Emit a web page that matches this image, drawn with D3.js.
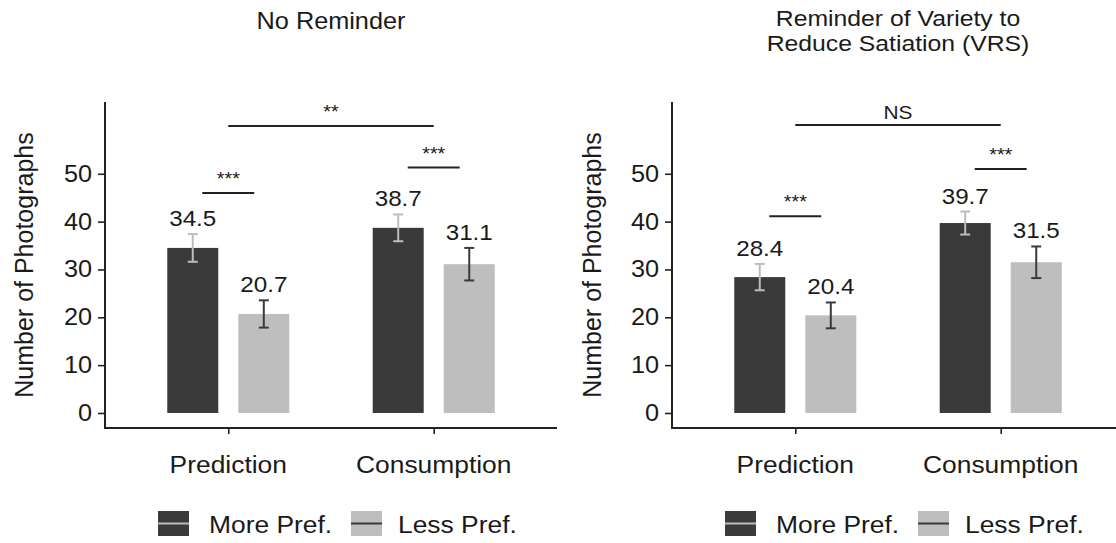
<!DOCTYPE html>
<html>
<head>
<meta charset="utf-8">
<script src="https://cdn.jsdelivr.net/npm/d3@7"></script>
<style>
  html, body { margin: 0; padding: 0; background: #fff; }
  svg { display: block; }
  text { font-family: "Liberation Sans", Arial, Helvetica, sans-serif; fill: #1a1a1a; }
</style>
</head>
<body>
<svg id="chart" width="1116" height="543"></svg>
<script>
// ---------------- data ----------------
const categories = ["Prediction", "Consumption"];
const seriesNames = ["More Pref.", "Less Pref."];
const yTicks = [0, 10, 20, 30, 40, 50];

const titleNoReminder = ["No Reminder"];
const titleVRS = ["Reminder of Variety to", "Reduce Satiation (VRS)"];

const noReminderMore = [34.5, 38.7];
const noReminderLess = [20.7, 31.1];
const noReminderMoreErr = [2.9, 2.8];
const noReminderLessErr = [2.85, 3.4];
const noReminderWithinSig = ["***", "***"];
const noReminderWithinY = [46.0, 51.3];
const noReminderAcrossSig = "**";
const noReminderAcrossY = 60.0;

const vrsMore = [28.4, 39.7];
const vrsLess = [20.4, 31.5];
const vrsMoreErr = [2.75, 2.4];
const vrsLessErr = [2.7, 3.3];
const vrsWithinSig = ["***", "***"];
const vrsWithinY = [41.1, 51.0];
const vrsAcrossSig = "NS";
const vrsAcrossY = 60.2;

const barColors = ["#3a3a3a", "#bebebe"];
const errColors = ["#bdbdbd", "#3a3a3a"];

// ---------------- layout ----------------
const SX = 1.1; // horizontal text stretch
const svg = d3.select("#chart");
const plotTop = 102, plotBottom = 428;
const y = d3.scaleLinear().domain([-3.14, 65]).range([plotBottom, plotTop]);

function htext(g, x, yy, str, size, anchor) {
  return g.append("text")
    .attr("transform", `translate(${x},${yy}) scale(${SX},1)`)
    .attr("text-anchor", anchor || "middle")
    .style("font-size", size + "px")
    .text(str);
}

const panels = [
  { left: 105, titles: titleNoReminder, titleY: [29], titleSize: 23, more: noReminderMore, less: noReminderLess,
    moreErr: noReminderMoreErr, lessErr: noReminderLessErr, withinSig: noReminderWithinSig,
    withinY: noReminderWithinY, acrossSig: noReminderAcrossSig, acrossY: noReminderAcrossY, ytitleX: 33 },
  { left: 672, titles: titleVRS, titleY: [26, 50.5], titleSize: 22.5, more: vrsMore, less: vrsLess,
    moreErr: vrsMoreErr, lessErr: vrsLessErr, withinSig: vrsWithinSig,
    withinY: vrsWithinY, acrossSig: vrsAcrossSig, acrossY: vrsAcrossY, ytitleX: 601 }
];

panels.forEach(p => {
  const g = svg.append("g");
  const x = d3.scalePoint().domain(categories).range([p.left, p.left + 452]).padding(0.6);
  const groupW = 0.594 * x.step();
  const xs = d3.scaleBand().domain(seriesNames).range([-groupW / 2, groupW / 2]).paddingInner(0.282);

  const rows = [];
  categories.forEach((c, i) => {
    rows.push({ cat: c, s: seriesNames[0], v: p.more[i], e: p.moreErr[i], k: 0 });
    rows.push({ cat: c, s: seriesNames[1], v: p.less[i], e: p.lessErr[i], k: 1 });
  });

  // bars
  g.selectAll("rect.bar").data(rows).enter().append("rect")
    .attr("x", d => x(d.cat) + xs(d.s))
    .attr("y", d => y(d.v))
    .attr("width", xs.bandwidth())
    .attr("height", d => y(0) - y(d.v))
    .attr("fill", d => barColors[d.k]);

  // error bars
  rows.forEach(d => {
    const cx = x(d.cat) + xs(d.s) + xs.bandwidth() / 2;
    const eg = g.append("g").attr("stroke", errColors[d.k]).attr("stroke-width", 2).attr("fill", "none");
    eg.append("line").attr("x1", cx).attr("x2", cx).attr("y1", y(d.v - d.e)).attr("y2", y(d.v + d.e));
    eg.append("line").attr("x1", cx - 5).attr("x2", cx + 5).attr("y1", y(d.v - d.e)).attr("y2", y(d.v - d.e));
    eg.append("line").attr("x1", cx - 5).attr("x2", cx + 5).attr("y1", y(d.v + d.e)).attr("y2", y(d.v + d.e));
    htext(g, cx, y(d.v + d.e) - 8, d.v.toFixed(1), 22);
  });

  // axes
  const yAxis = d3.axisLeft(y).tickValues(yTicks).tickSize(7).tickPadding(5);
  const ya = g.append("g").attr("transform", `translate(${p.left},0)`).call(yAxis);
  ya.select(".domain").remove();
  ya.selectAll(".tick line").attr("stroke", "#222").attr("stroke-width", 1.6);
  ya.selectAll(".tick text").remove();
  yTicks.forEach(t => {
    htext(g, p.left - 13, y(t) + 8, String(t), 23, "end");
  });
  g.append("line").attr("x1", p.left).attr("x2", p.left).attr("y1", plotTop).attr("y2", plotBottom)
    .attr("stroke", "#222").attr("stroke-width", 2);

  const xAxis = d3.axisBottom(x).tickSize(6).tickFormat("");
  const xa = g.append("g").attr("transform", `translate(0,${plotBottom})`).call(xAxis);
  xa.select(".domain").remove();
  xa.selectAll(".tick line").attr("stroke", "#222").attr("stroke-width", 1.6);
  g.append("line").attr("x1", p.left - 1).attr("x2", p.left + 452).attr("y1", plotBottom).attr("y2", plotBottom)
    .attr("stroke", "#222").attr("stroke-width", 2);
  categories.forEach(c => htext(g, x(c), 473, c, 24));

  // y title
  g.append("text")
    .attr("transform", `translate(${p.ytitleX},${(plotTop + plotBottom) / 2}) rotate(-90)`)
    .attr("text-anchor", "middle").style("font-size", "25px").text("Number of Photographs");

  // panel title
  const cxPanel = p.left + 226;
  p.titles.forEach((t, i) => htext(g, cxPanel, p.titleY[i], t, p.titleSize));

  // significance brackets within category
  const half = 0.1265 * x.step();
  categories.forEach((c, i) => {
    const ly = y(p.withinY[i]);
    g.append("line").attr("x1", x(c) - half).attr("x2", x(c) + half).attr("y1", ly).attr("y2", ly)
      .attr("stroke", "#222").attr("stroke-width", 2);
    htext(g, x(c), ly - 8, p.withinSig[i], 18);
  });
  // across categories
  const ay = y(p.acrossY);
  g.append("line").attr("x1", x(categories[0])).attr("x2", x(categories[1])).attr("y1", ay).attr("y2", ay)
    .attr("stroke", "#222").attr("stroke-width", 2);
  htext(g, (x(categories[0]) + x(categories[1])) / 2, ay - (p.acrossSig === "NS" ? 6 : 8), p.acrossSig,
    p.acrossSig === "NS" ? 19 : 18);

  // legend
  const legOff = [-173, -122, 20, 67];
  seriesNames.forEach((s, k) => {
    const kx = cxPanel + legOff[k * 2];
    g.append("rect").attr("x", kx).attr("y", 511).attr("width", 31).attr("height", 25).attr("fill", barColors[k]);
    g.append("line").attr("x1", kx).attr("x2", kx + 31).attr("y1", 523.5).attr("y2", 523.5)
      .attr("stroke", errColors[k]).attr("stroke-width", 2);
    htext(g, cxPanel + legOff[k * 2 + 1], 533, s, 24, "start");
  });
});
</script>
</body>
</html>
